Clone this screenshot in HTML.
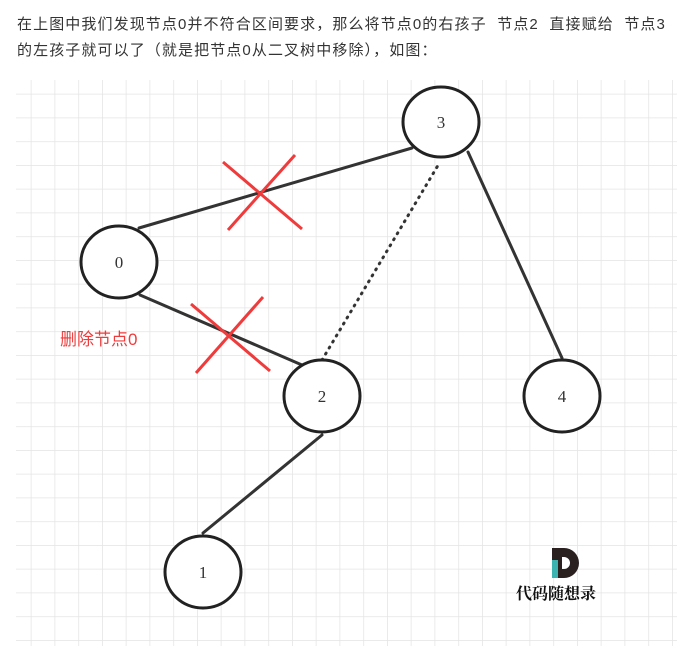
<!DOCTYPE html>
<html><head><meta charset="utf-8"><style>
body{margin:0;background:#fff;width:677px;height:646px;overflow:hidden;position:relative}
.t{position:absolute;left:17px;font-family:"Liberation Sans","Noto Sans CJK SC",sans-serif;font-size:15px;color:#333;letter-spacing:1.1px;white-space:nowrap}
</style></head><body>
<div class="t" style="top:13px">在上图中我们发现节点0并不符合区间要求，那么将节点0的右孩子&nbsp; 节点2&nbsp; 直接赋给&nbsp; 节点3</div>
<div class="t" style="top:39px">的左孩子就可以了（就是把节点0从二叉树中移除），如图：</div>
<svg width="677" height="646" style="position:absolute;left:0;top:0">
<defs>
<pattern id="g" x="7" y="70" width="23.75" height="23.75" patternUnits="userSpaceOnUse">
<path d="M0 0H23.75M0 0V23.75" stroke="#e4e4e4" stroke-width="1.5" fill="none"/>
</pattern>
</defs>
<rect x="16" y="80" width="661" height="566" fill="url(#g)"/>
<g stroke="#333" stroke-width="3" fill="none" stroke-linecap="round">
<line x1="139" y1="228" x2="412" y2="148"/>
<line x1="140" y1="295" x2="302" y2="365"/>
<line x1="468" y1="152" x2="562" y2="358"/>
<line x1="322" y1="435" x2="203" y2="533"/>
<line x1="322" y1="360" x2="440" y2="162" stroke-dasharray="1 6"/>
</g>
<g stroke="#ef3b3b" stroke-width="3">
<line x1="223" y1="162" x2="302" y2="229"/><line x1="228" y1="230" x2="295" y2="155"/>
<line x1="191" y1="304" x2="270" y2="371"/><line x1="196" y1="373" x2="263" y2="297"/>
</g>
<g stroke="#222" stroke-width="3" fill="#fff">
<ellipse cx="441" cy="122" rx="38" ry="35"/>
<ellipse cx="119" cy="262" rx="38" ry="36"/>
<ellipse cx="322" cy="396" rx="38" ry="36"/>
<ellipse cx="562" cy="396" rx="38" ry="36"/>
<ellipse cx="203" cy="572" rx="38" ry="36"/>
</g>
<g font-family="Liberation Serif,serif" font-size="17" fill="#333" text-anchor="middle">
<text x="441" y="128">3</text><text x="119" y="268">0</text><text x="322" y="402">2</text><text x="562" y="402">4</text><text x="203" y="578">1</text>
</g>
<text x="60" y="345" font-family="Liberation Sans,Noto Sans CJK SC,sans-serif" font-size="17" fill="#ef3b3b">删除节点0</text>
<rect x="552" y="548" width="10" height="30" fill="#2a2020"/>
<rect x="552" y="560" width="6" height="18" fill="#3bb3b0"/>
<path d="M560 548h4a15 15 0 0 1 0 30h-4v-9h4a6 6 0 0 0 0-12h-4z" fill="#2a2020"/>
<text x="516" y="599" font-family="Noto Serif CJK SC,serif" font-weight="bold" font-size="16" fill="#111">代码随想录</text>
</svg>
</body></html>
